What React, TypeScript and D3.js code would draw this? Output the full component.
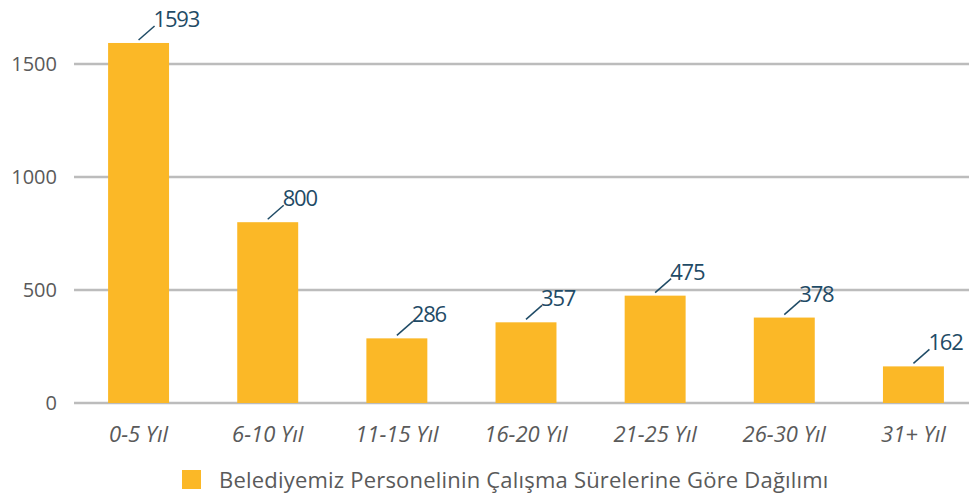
import React from "react";
import * as d3 from "d3";

const categories = ["0-5 Yıl", "6-10 Yıl", "11-15 Yıl", "16-20 Yıl", "21-25 Yıl", "26-30 Yıl", "31+ Yıl"];
const values = [1593, 800, 286, 357, 475, 378, 162];
const yTicks = [0, 500, 1000, 1500];
const seriesName = "Belediyemiz Personelinin Çalışma Sürelerine Göre Dağılımı";

const W = 969;
const H = 494;
const left = 74;
const gridRight = 969;
const bandRight = 978;
const zeroY = 403;
const y1500 = 64;

export default function App() {
  const x = d3.scaleBand<string>().domain(categories).range([left, bandRight]).paddingInner(0.528).paddingOuter(0.264);
  const yMax = 1500 + ((y1500 - 0) / (zeroY - y1500)) * 1500;
  const y = d3.scaleLinear().domain([0, yMax]).range([zeroY, 0]);
  const font = "'Open Sans', 'Noto Sans', sans-serif";
  return (
    <svg width={W} height={H} style={{ position: "absolute", left: 0, top: 0 }}>
      {yTicks.map((t) => (
        <g key={t}>
          <line x1={left} x2={gridRight} y1={y(t)} y2={y(t)} stroke="#bcbcbc" strokeWidth={2.5} />
          <text x={57} y={y(t) + 7} textAnchor="end" fontSize={20} fill="#5a5a5a" fontFamily={font}>
            {t}
          </text>
        </g>
      ))}
      {categories.map((c, i) => {
        const bx = x(c)!;
        const cx = bx + x.bandwidth() / 2;
        const top = y(values[i]);
        return (
          <g key={c}>
            <rect x={bx} y={top} width={x.bandwidth()} height={zeroY - top} fill="#fbb827" />
            <line x1={cx} y1={top - 3} x2={cx + 16} y2={top - 17} stroke="#1f4b66" strokeWidth={1.5} />
            <text x={cx + 15} y={top - 16} fontSize={22} fill="#1f4b66" fontFamily={font} letterSpacing={-1.2}>
              {values[i]}
            </text>
            <text x={cx} y={442} textAnchor="middle" fontSize={22} fontStyle="italic" fill="#5a5a5a" fontFamily={font}>
              {c}
            </text>
          </g>
        );
      })}
      <rect x={182} y={470} width={19} height={19} fill="#fbb827" />
      <text x={219} y={488} fontSize={22} fill="#5a5a5a" fontFamily={font} letterSpacing={0.2}>
        {seriesName}
      </text>
    </svg>
  );
}
